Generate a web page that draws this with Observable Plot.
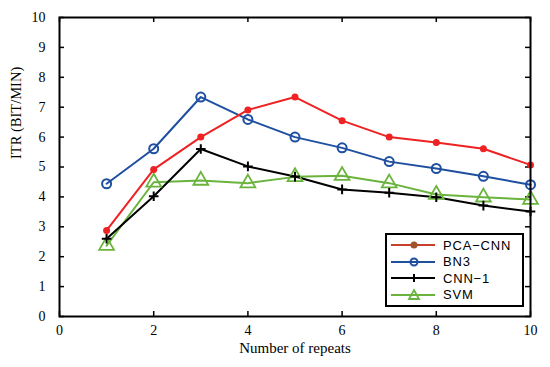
<!DOCTYPE html>
<html>
<head>
<meta charset="utf-8">
<script src="https://cdn.jsdelivr.net/npm/d3@7"></script>
<script src="https://cdn.jsdelivr.net/npm/@observablehq/plot@0.6"></script>
<style>
  html, body { margin: 0; padding: 0; background: #fff; }
  #wrap { position: relative; width: 550px; height: 367px; }
  #legend { position: absolute; left: 385px; top: 233px; width: 135px; height: 68px;
    border: 2px solid #000; background: #fff; font-family: "Liberation Sans", Arial, sans-serif;
    font-size: 13px; letter-spacing: 0.8px; padding-top: 2px; }
  .row { display: flex; align-items: center; height: 16.5px; }
  .row svg { display: block; margin-left: 3px; margin-right: 7px; }
</style>
</head>
<body>
<div id="wrap"></div>
<script>
const repeats = [1, 2, 3, 4, 5, 6, 7, 8, 9, 10];
const pcaCnn = [2.88, 4.92, 6.0, 6.91, 7.34, 6.55, 6.0, 5.82, 5.61, 5.07];
const bn3    = [4.44, 5.61, 7.34, 6.59, 6.0, 5.64, 5.18, 4.95, 4.69, 4.41];
const cnn1   = [2.6, 4.02, 5.6, 5.02, 4.68, 4.25, 4.14, 3.99, 3.71, 3.51];
const svm    = [2.37, 4.49, 4.55, 4.46, 4.67, 4.71, 4.46, 4.08, 3.99, 3.91];
const seriesNames = ["PCA−CNN", "BN3", "CNN−1", "SVM"];
const xTicks = [0, 2, 4, 6, 8, 10];
const yTicks = [0, 1, 2, 3, 4, 5, 6, 7, 8, 9, 10];
const xTitle = "Number of repeats";
const yTitle = "ITR (BIT/MIN)";

const colors = {"PCA−CNN": "#ee2222", "BN3": "#1f4f9f", "CNN−1": "#000000", "SVM": "#6ab43e"};
const seriesValues = [pcaCnn, bn3, cnn1, svm];
const rows = seriesNames.flatMap((name, i) => repeats.map((r, j) => ({series: name, x: r, y: seriesValues[i][j]})));
const sub = name => rows.filter(d => d.series === name);

const serif = "'Liberation Serif', 'Times New Roman', serif";
const W = 550, H = 367, mL = 59, mR = 20, mT = 17, mB = 51;
const plotW = W - mL - mR, plotH = H - mT - mB, tickLen = 5;

const chart = Plot.plot({
  width: W,
  height: H,
  marginLeft: mL,
  marginRight: mR,
  marginTop: mT,
  marginBottom: mB,
  style: {fontFamily: serif, fontSize: "14px", background: "#fff"},
  x: {domain: [0, 10]},
  y: {domain: [0, 10]},
  marks: [
    Plot.axisX({anchor: "bottom", ticks: xTicks, tickSize: 0, tickPadding: 9, label: null, fontSize: 14}),
    Plot.axisY({anchor: "left", ticks: yTicks, tickSize: 0, tickPadding: 14, label: null, fontSize: 14}),
    // inward tick marks on all four sides
    Plot.tickX(xTicks, {x: d => d, insetTop: plotH - tickLen, stroke: "#000", strokeWidth: 1.5}),
    Plot.tickX(xTicks, {x: d => d, insetBottom: plotH - tickLen, stroke: "#000", strokeWidth: 1.5}),
    Plot.tickY(yTicks, {y: d => d, insetRight: plotW - tickLen, stroke: "#000", strokeWidth: 1.5}),
    Plot.tickY(yTicks, {y: d => d, insetLeft: plotW - tickLen, stroke: "#000", strokeWidth: 1.5}),
    Plot.line(sub("SVM"), {x: "x", y: "y", stroke: colors["SVM"], strokeWidth: 2}),
    Plot.line(sub("CNN−1"), {x: "x", y: "y", stroke: colors["CNN−1"], strokeWidth: 2}),
    Plot.line(sub("BN3"), {x: "x", y: "y", stroke: colors["BN3"], strokeWidth: 2}),
    Plot.line(sub("PCA−CNN"), {x: "x", y: "y", stroke: colors["PCA−CNN"], strokeWidth: 2}),
    Plot.dot(sub("SVM"), {x: "x", y: "y", symbol: "triangle", r: 5.5, stroke: colors["SVM"], strokeWidth: 1.8, fill: "none"}),
    Plot.dot(sub("CNN−1"), {x: "x", y: "y", symbol: "plus", r: 3.2, stroke: colors["CNN−1"], strokeWidth: 2}),
    Plot.dot(sub("BN3"), {x: "x", y: "y", r: 4.5, stroke: colors["BN3"], strokeWidth: 2, fill: "none"}),
    Plot.dot(sub("PCA−CNN"), {x: "x", y: "y", r: 3.5, fill: colors["PCA−CNN"], stroke: "none"}),
    Plot.frame({stroke: "#000", strokeWidth: 2}),
    Plot.text([xTitle], {frameAnchor: "bottom", dy: 36, fontSize: 15, fontFamily: serif}),
    Plot.text([yTitle], {frameAnchor: "left", rotate: -90, dx: -43, dy: -8, fontSize: 14.5, fontFamily: serif})
  ]
});

const wrap = document.getElementById("wrap");
wrap.appendChild(chart);

// Legend overlay
const legend = document.createElement("div");
legend.id = "legend";
const markerSvg = name => {
  const c = colors[name];
  let m = "";
  if (name === "PCA−CNN") m = `<circle cx="24" cy="8" r="3.5" fill="#a0522d"/>`;
  else if (name === "BN3") m = `<circle cx="24" cy="8" r="3.5" fill="none" stroke="${c}" stroke-width="2"/>`;
  else if (name === "CNN−1") m = `<path d="M24,4V12M20,8H28" stroke="${c}" stroke-width="2"/>`;
  else m = `<path d="M24,3L29,12H19Z" fill="none" stroke="${c}" stroke-width="1.8"/>`;
  const lc = name === "PCA−CNN" ? "#c8402a" : c;
  return `<svg width="46" height="16"><line x1="1" y1="8" x2="45" y2="8" stroke="${lc}" stroke-width="2"/>${m}</svg>`;
};
seriesNames.forEach(name => {
  const row = document.createElement("div");
  row.className = "row";
  row.innerHTML = markerSvg(name) + `<span>${name}</span>`;
  legend.appendChild(row);
});
wrap.appendChild(legend);
</script>
</body>
</html>
